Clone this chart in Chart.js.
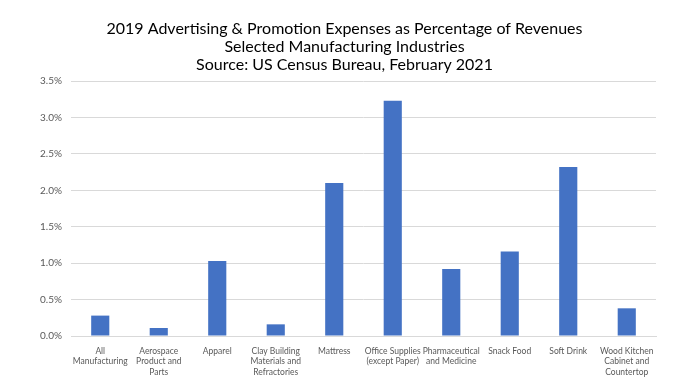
<!DOCTYPE html>
<html>
<head>
<meta charset="utf-8">
<script src="https://cdn.jsdelivr.net/npm/chart.js@4"></script>
<style>
  html, body { margin: 0; padding: 0; background: #ffffff; }
  #wrap { width: 689px; height: 388px; }
</style>
</head>
<body>
<div id="wrap"><canvas id="adChart" width="689" height="388"></canvas></div>
<script>
// Industries (x axis), split into the lines shown under each bar
const industries = [
    ['All', 'Manufacturing'],
    ['Aerospace', 'Product and', 'Parts'],
    'Apparel',
    ['Clay Building', 'Materials and', 'Refractories'],
    'Mattress',
    ['Office Supplies', '(except Paper)'],
    ['Pharmaceutical', 'and Medicine'],
    'Snack Food',
    'Soft Drink',
    ['Wood Kitchen', 'Cabinet and', 'Countertop']
];

// Advertising & promotion expenses, % of revenues
const adPercent = [0.28, 0.11, 1.03, 0.16, 2.10, 3.23, 0.92, 1.16, 2.32, 0.38];

// Y axis ticks, percent
const yTicks = [0, 0.5, 1.0, 1.5, 2.0, 2.5, 3.0, 3.5];

const titleLines = [
    '2019 Advertising & Promotion Expenses as Percentage of Revenues',
    'Selected Manufacturing Industries',
    'Source: US Census Bureau, February 2021'
];

const fontFamily = 'Lato, "Open Sans", sans-serif';

const ctx = document.getElementById('adChart').getContext('2d');
new Chart(ctx, {
    type: 'bar',
    data: {
        labels: industries,
        datasets: [{
            data: adPercent,
            backgroundColor: '#4472C4',
            borderWidth: 0,
            categoryPercentage: 1.0,
            barPercentage: 0.31
        }]
    },
    options: {
        responsive: false,
        animation: false,
        layout: {
            padding: 0
        },
        scales: {
            y: {
                min: yTicks[0],
                max: yTicks[yTicks.length - 1],
                ticks: {
                    stepSize: 0.5,
                    color: '#595959',
                    padding: 9,
                    font: { family: fontFamily, size: 10 },
                    callback: v => v.toFixed(1) + '%'
                },
                grid: { color: '#d9d9d9', drawTicks: false },
                border: { display: false },
                afterFit: scale => { scale.width = 71; }
            },
            // empty right-hand spacer so the title stays centred on the page
            yRight: {
                position: 'right',
                grid: { display: false },
                border: { display: false },
                ticks: { display: false },
                afterFit: scale => { scale.width = 33; }
            },
            x: {
                ticks: {
                    color: '#595959',
                    padding: 2,
                    maxRotation: 0,
                    autoSkip: false,
                    font: { family: fontFamily, size: 8.5, lineHeight: 1.22 }
                },
                grid: { display: false },
                border: { color: '#d9d9d9' },
                afterFit: scale => { scale.height = 52; }
            }
        },
        plugins: {
            legend: { display: false },
            tooltip: { enabled: false },
            title: {
                display: true,
                text: titleLines,
                color: '#000000',
                font: { family: fontFamily, size: 16, weight: 'normal', lineHeight: 1.125 },
                padding: { top: 20, bottom: 7 }
            }
        }
    }
});
</script>
</body>
</html>
